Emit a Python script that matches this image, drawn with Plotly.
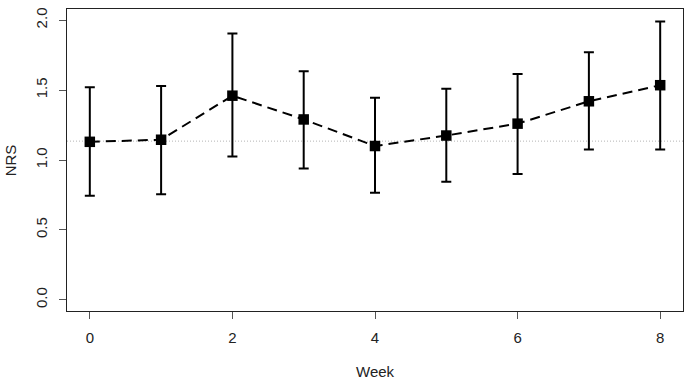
import plotly.graph_objects as go

weeks = [0, 1, 2, 3, 4, 5, 6, 7, 8]
nrs_mean = [1.13, 1.145, 1.46, 1.29, 1.10, 1.175, 1.26, 1.42, 1.535]
nrs_lower = [0.745, 0.755, 1.025, 0.94, 0.765, 0.845, 0.90, 1.075, 1.075]
nrs_upper = [1.52, 1.53, 1.905, 1.635, 1.445, 1.51, 1.615, 1.77, 1.99]
reference_level = 1.135
x_ticks = [0, 2, 4, 6, 8]
y_ticks = [0.0, 0.5, 1.0, 1.5, 2.0]
y_tick_labels = ["0.0", "0.5", "1.0", "1.5", "2.0"]

err_plus = [u - m for u, m in zip(nrs_upper, nrs_mean)]
err_minus = [m - l for m, l in zip(nrs_mean, nrs_lower)]

FONT = "Liberation Sans, Arial, Helvetica, sans-serif"

fig = go.Figure()
fig.add_shape(type="line", xref="paper", x0=0, x1=1, yref="y",
              y0=reference_level, y1=reference_level,
              line=dict(color="#b4b4b4", width=1, dash="1px,2px"), layer="below")
fig.add_trace(go.Scatter(
    x=weeks, y=nrs_mean, mode="lines+markers",
    line=dict(color="black", width=2, dash="10px,6px"),
    marker=dict(symbol="square", size=10.5, color="black"),
    error_y=dict(type="data", symmetric=False, array=err_plus, arrayminus=err_minus,
                 color="black", thickness=2, width=5),
    showlegend=False,
))

axis_common = dict(showline=True, mirror=True, linecolor="#222", linewidth=1,
                   ticks="outside", ticklen=7, tickcolor="#555", tickwidth=1,
                   showgrid=False, zeroline=False, automargin=False,
                   tickfont=dict(family=FONT, size=15, color="#222"))

fig.update_layout(
    width=686, height=380,
    margin=dict(l=67, r=3, t=9, b=69),
    plot_bgcolor="white", paper_bgcolor="white",
    xaxis=dict(range=[-0.32, 8.32], tickvals=x_ticks, ticklabelstandoff=6, **axis_common),
    yaxis=dict(range=[-0.08, 2.08], tickvals=y_ticks, ticktext=y_tick_labels,
               tickangle=-90, ticklabelstandoff=6, **axis_common),
    annotations=[
        dict(text="Week", xref="paper", yref="paper", x=0.5, y=-0.2,
             yanchor="middle", xanchor="center", showarrow=False,
             font=dict(family=FONT, size=15, color="#222")),
        dict(text="NRS", xref="paper", yref="paper", x=-0.092, y=0.5,
             xanchor="center", yanchor="middle", textangle=-90, showarrow=False,
             font=dict(family=FONT, size=15, color="#222")),
    ],
)

fig.write_html("out.html", config={"displayModeBar": False},
               post_script="document.body.style.margin='0';document.body.style.overflow='hidden';")
